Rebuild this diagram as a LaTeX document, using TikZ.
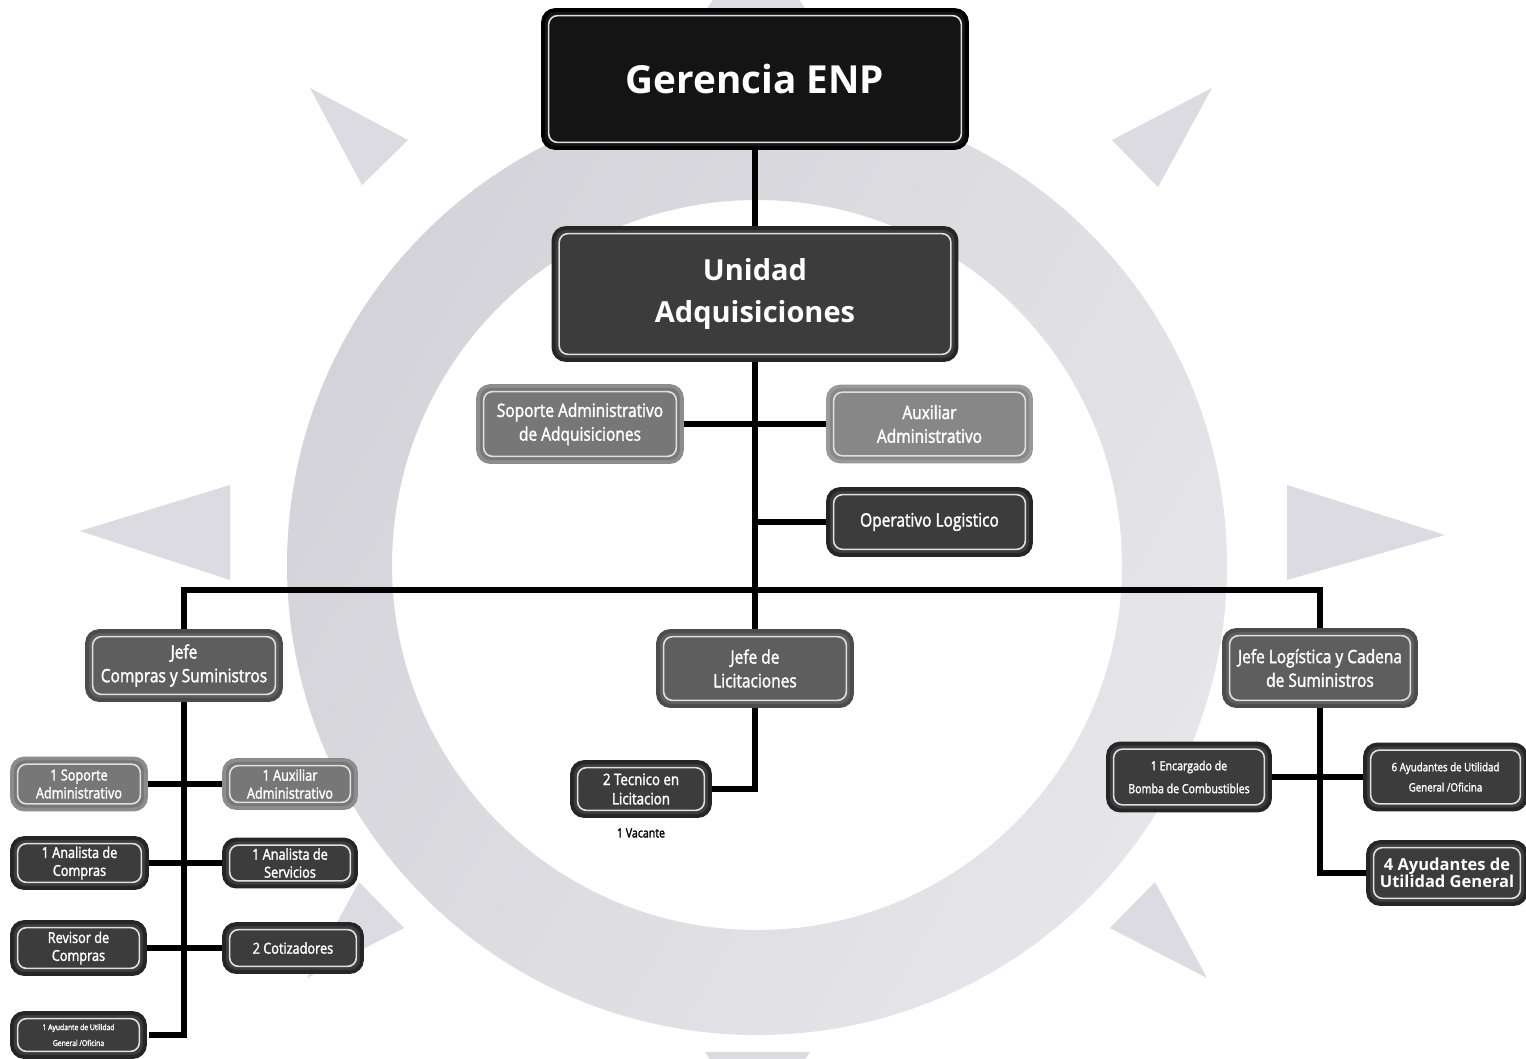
\documentclass[tikz,border=0pt]{standalone}
\usepackage{fontspec}
\setmainfont{Open Sans}
\newfontfamily\cond[FakeStretch=0.84, FakeBold=1.8]{Open Sans}
\definecolor{ringL}{HTML}{D3D3D9}
\definecolor{ringR}{HTML}{E6E6EA}
\definecolor{tri}{HTML}{DBDBE1}
\definecolor{fblack}{HTML}{141414}
\definecolor{fdark}{HTML}{3C3C3C}
\definecolor{fjefe}{HTML}{5E5E5E}
\definecolor{fmid}{HTML}{777777}
\definecolor{flight}{HTML}{878787}
\tikzset{
  obox/.style={rounded corners=7pt, line width=2.2pt, text=white, align=center, inner sep=0pt,
    path picture={\draw[white!88!black, line width=0.9pt, rounded corners=5pt]
      ([shift={(3.2pt,-3.2pt)}]path picture bounding box.north west) rectangle
      ([shift={(-3.2pt,3.2pt)}]path picture bounding box.south east);}},
  bblack/.style={obox, fill=fblack, draw=black},
  bdark/.style={obox, fill=fdark, draw=black!85},
  bjefe/.style={obox, fill=fjefe, draw=black!70},
  bmid/.style={obox, fill=fmid, draw=black!45},
  blight/.style={obox, fill=flight, draw=black!40},
  conn/.style={draw=black, line width=3.4pt},
  ftitle/.style={font=\fontsize{22}{26}\selectfont\bfseries},
  funit/.style={font=\fontsize{16.5}{24}\selectfont\bfseries},
  fmed/.style={font=\cond\fontsize{10.5}{13.5}\selectfont},
  fsmall/.style={font=\cond\fontsize{8.6}{10.2}\selectfont},
  ftiny/.style={font=\cond\fontsize{4.6}{9}\selectfont},
}
\begin{document}
\begin{tikzpicture}[x=0.02cm,y=-0.02cm]
\useasboundingbox (0,0) rectangle (1526,1059);
\begin{scope}
\clip (0,0) rectangle (1526,1059);
\fill[white] (0,0) rectangle (1526,1059);
% background sun logo
\shade[even odd rule, left color=ringL, right color=ringR, shading angle=60]
  (757,565) circle[radius=470] (757,565) circle[radius=365];
\fill[tri] (310,88) -- (408,140) -- (362,185) -- cycle;
\fill[tri] (1212,88) -- (1112,140) -- (1158,187) -- cycle;
\fill[tri] (80,531) -- (230,485) -- (230,580) -- cycle;
\fill[tri] (1445,535) -- (1287,485) -- (1287,580) -- cycle;
\fill[tri] (1155,882) -- (1110,928) -- (1207,978) -- cycle;
\fill[tri] (359,882) -- (404,928) -- (307,978) -- cycle;
\fill[tri] (700,18) -- (812,18) -- (757,-60) -- cycle;
\fill[tri] (705,1052) -- (810,1052) -- (757,1130) -- cycle;
\end{scope}

% nodes
\node[bblack, ftitle, minimum width=8.48cm, minimum height=2.76cm] (G) at (755,79) {Gerencia ENP};
\node[bdark, funit, minimum width=8.06cm, minimum height=2.64cm] (U) at (755,294) {Unidad\\Adquisiciones};
\node[bmid, fmed, minimum width=4.08cm, minimum height=1.52cm] (S) at (580,424) {Soporte Administrativo\\de Adquisiciones};
\node[blight, fmed, minimum width=4.06cm, minimum height=1.50cm] (A) at (929.5,424) {Auxiliar\\Administrativo};
\node[bdark, fmed, minimum width=4.06cm, minimum height=1.32cm] (O) at (929.5,522) {Operativo Logistico};
\node[bjefe, fmed, minimum width=3.88cm, minimum height=1.38cm] (JC) at (184,665.5) {Jefe\\Compras y Suministros};
\node[bjefe, fmed, minimum width=3.88cm, minimum height=1.50cm] (JL) at (755,668.5) {Jefe de\\Licitaciones};
\node[bjefe, fmed, minimum width=3.84cm, minimum height=1.52cm] (JG) at (1320,668) {Jefe Logística y Cadena\\de Suministros};

\node[bmid, fsmall, minimum width=2.68cm, minimum height=1.02cm] (L1) at (79,784) {1 Soporte\\Administrativo};
\node[bmid, fsmall, minimum width=2.64cm, minimum height=0.96cm] (R1) at (290,784) {1 Auxiliar\\Administrativo};
\node[bdark, fsmall, minimum width=2.70cm, minimum height=1.00cm] (L2) at (79.5,863) {1 Analista de\\Compras};
\node[bdark, fsmall, minimum width=2.64cm, minimum height=0.94cm] (R2) at (290,863) {1 Analista de\\Servicios};
\node[bdark, fsmall, minimum width=2.66cm, minimum height=1.04cm] (L3) at (78.5,948) {Revisor de\\Compras};
\node[bdark, fsmall, minimum width=2.76cm, minimum height=0.96cm] (R3) at (293,948) {2 Cotizadores};
\node[bdark, ftiny, minimum width=2.66cm, minimum height=0.88cm] (L4) at (78.5,1035) {1 Ayudante de Utilidad\\General /Oficina};

\node[bdark, fsmall, font=\cond\fontsize{9}{11}\selectfont, minimum width=2.76cm, minimum height=1.08cm] (T) at (641,789) {2 Tecnico en\\Licitacion};
\node[font=\cond\fontsize{7.2}{9}\selectfont, text=black, anchor=center] (V) at (641,833) {1 Vacante};

\node[bdark, font=\cond\fontsize{7.2}{13}\selectfont, minimum width=3.24cm, minimum height=1.34cm] (E) at (1189,777) {1 Encargado de\\Bomba de Combustibles};
\node[bdark, font=\cond\fontsize{6.6}{11.5}\selectfont, minimum width=3.22cm, minimum height=1.30cm] (Y6) at (1445.5,777) {6 Ayudantes de Utilidad\\General /Oficina};
\node[bdark, font=\fontsize{9.4}{9.4}\selectfont\bfseries, minimum width=3.16cm, minimum height=1.24cm] (Y4) at (1447,873) {4 Ayudantes de\\Utilidad General};

% connectors
\coordinate (bus) at (755,590);
\draw[conn] (G.south) -- (U.north);
\draw[conn] (U.south) -- (JL.north);
\draw[conn] (S.east) -- (A.west);
\draw[conn] (O.west) -- (O.west -| U.south);
\draw[conn] (JC.north) -- (JC.north |- bus) -- (JG.north |- bus) -- (JG.north);
\draw[conn] (JC.south) -- (JC.south |- L4.east) -- ([xshift=1pt]L4.east);
\draw[conn] (L1.east) -- (R1.west);
\draw[conn] (L2.east) -- (R2.west);
\draw[conn] (L3.east) -- (R3.west);
\draw[conn] (JL.south) |- (T.east);
\draw[conn] (JG.south) |- (Y4.west);
\draw[conn] (E.east) -- (Y6.west);
\end{tikzpicture}
\end{document}
